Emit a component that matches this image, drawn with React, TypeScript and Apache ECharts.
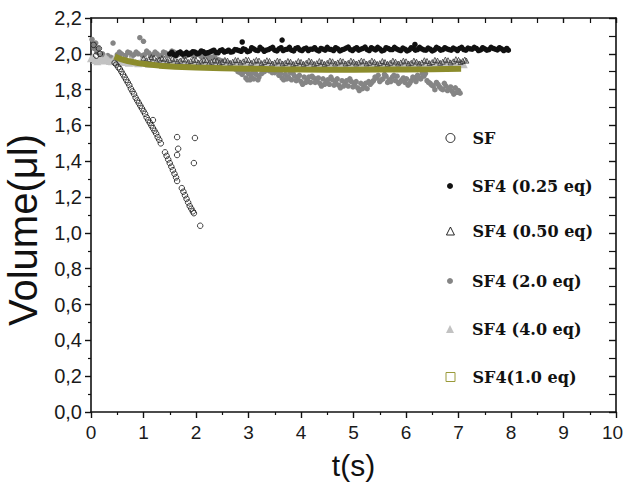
import React, { useEffect, useRef } from "react";
import * as echarts from "echarts";

// ---- data (t in s, volume in µl) ----
const xTicks = [0, 1, 2, 3, 4, 5, 6, 7, 8, 9, 10];
const yTicks = [0, 0.2, 0.4, 0.6, 0.8, 1.0, 1.2, 1.4, 1.6, 1.8, 2.0, 2.2];

const seriesNames = [
  "SF",
  "SF4 (0.25 eq)",
  "SF4 (0.50 eq)",
  "SF4 (2.0 eq)",
  "SF4 (4.0 eq)",
  "SF4(1.0 eq)",
];

const sfData: number[][] = [
  [0.05, 2.05], [0.15, 2.03], [0.17, 2.0], [0.1, 1.99],
  [0.45, 1.95], [0.48, 1.94], [0.52, 1.925], [0.55, 1.915], [0.58, 1.9], [0.61, 1.885],
  [0.64, 1.87], [0.67, 1.855], [0.7, 1.84], [0.73, 1.825], [0.76, 1.805], [0.79, 1.79],
  [0.82, 1.775], [0.85, 1.755], [0.88, 1.74], [0.91, 1.725], [0.94, 1.71], [0.97, 1.695],
  [1.0, 1.68], [1.03, 1.665], [1.06, 1.645], [1.09, 1.63], [1.12, 1.615], [1.15, 1.6],
  [1.18, 1.63], [1.18, 1.585], [1.21, 1.57], [1.24, 1.555], [1.27, 1.535], [1.3, 1.52],
  [1.33, 1.5], [1.41, 1.45], [1.44, 1.43], [1.47, 1.41], [1.5, 1.39], [1.53, 1.37],
  [1.56, 1.35], [1.59, 1.33], [1.62, 1.31], [1.64, 1.29],
  [1.64, 1.535], [1.66, 1.47], [1.64, 1.435],
  [1.73, 1.25], [1.76, 1.23], [1.79, 1.21], [1.82, 1.19], [1.85, 1.17], [1.88, 1.15],
  [1.91, 1.135], [1.94, 1.12], [1.96, 1.11],
  [1.98, 1.53], [1.96, 1.39], [2.08, 1.04],
];

const sf025Data: number[][] = [
  [1.5, 2.0], [1.58, 1.995], [1.66, 2.005], [1.74, 1.998], [1.82, 2.008], [1.9, 2.002],
  [1.98, 2.01], [2.06, 2.004], [2.14, 2.012], [2.22, 2.006], [2.3, 2.015], [2.38, 2.008],
  [2.46, 2.018], [2.54, 2.01], [2.62, 2.02], [2.7, 2.012], [2.78, 2.022], [2.86, 2.014],
  [2.88, 2.066], [2.94, 2.024], [3.02, 2.016], [3.1, 2.028], [3.18, 2.018], [3.26, 2.026],
  [3.34, 2.02], [3.42, 2.03], [3.5, 2.02], [3.58, 2.028], [3.64, 2.077], [3.66, 2.018],
  [3.74, 2.026], [3.82, 2.02], [3.9, 2.03], [3.98, 2.022], [4.06, 2.028], [4.14, 2.018],
  [4.22, 2.026], [4.3, 2.022], [4.38, 2.03], [4.46, 2.02], [4.54, 2.026], [4.62, 2.018],
  [4.7, 2.028], [4.78, 2.022], [4.86, 2.032], [4.94, 2.024], [5.02, 2.028], [5.1, 2.02],
  [5.18, 2.03], [5.26, 2.024], [5.34, 2.034], [5.42, 2.022], [5.5, 2.028], [5.58, 2.02],
  [5.66, 2.03], [5.74, 2.024], [5.82, 2.028], [5.9, 2.018], [5.98, 2.026], [6.06, 2.022],
  [6.14, 2.03], [6.17, 2.052], [6.22, 2.024], [6.3, 2.028], [6.38, 2.02], [6.46, 2.026],
  [6.54, 2.022], [6.62, 2.03], [6.7, 2.024], [6.78, 2.028], [6.86, 2.02], [6.94, 2.026],
  [7.02, 2.03], [7.1, 2.024], [7.18, 2.032], [7.26, 2.026], [7.34, 2.03], [7.42, 2.022],
  [7.5, 2.028], [7.58, 2.024], [7.66, 2.03], [7.74, 2.022], [7.82, 2.028], [7.9, 2.024],
  [7.95, 2.02],
  [1.54, 2.008], [1.62, 1.992], [1.7, 2.01], [1.78, 2.0], [1.86, 1.996], [1.94, 2.012],
  [2.02, 2.0], [2.1, 2.016], [2.18, 2.002], [2.26, 2.01], [2.34, 2.02], [2.42, 2.006],
  [2.5, 2.022], [2.58, 2.014], [2.66, 2.01], [2.74, 2.024], [2.82, 2.018], [2.9, 2.028],
  [2.98, 2.012], [3.06, 2.034], [3.14, 2.02], [3.22, 2.036], [3.3, 2.014], [3.38, 2.024],
  [3.46, 2.036], [3.54, 2.016], [3.62, 2.034], [3.7, 2.024], [3.78, 2.036], [3.86, 2.016],
  [3.94, 2.034], [4.02, 2.018], [4.1, 2.032], [4.18, 2.026], [4.26, 2.034], [4.34, 2.016],
  [4.42, 2.026], [4.5, 2.036], [4.58, 2.024], [4.66, 2.034], [4.74, 2.016], [4.82, 2.026],
  [4.9, 2.038], [4.98, 2.018], [5.06, 2.034], [5.14, 2.026], [5.22, 2.038], [5.3, 2.018],
  [5.38, 2.028], [5.46, 2.036], [5.54, 2.016], [5.62, 2.034], [5.7, 2.024], [5.78, 2.036],
  [5.86, 2.022], [5.94, 2.032], [6.02, 2.016], [6.1, 2.034], [6.18, 2.02], [6.26, 2.036],
  [6.34, 2.022], [6.42, 2.032], [6.5, 2.016], [6.58, 2.036], [6.66, 2.02], [6.74, 2.034],
  [6.82, 2.024], [6.9, 2.032], [6.98, 2.018], [7.06, 2.036], [7.14, 2.02], [7.22, 2.028],
  [7.3, 2.036], [7.38, 2.018], [7.46, 2.034], [7.54, 2.02], [7.62, 2.036], [7.7, 2.026],
  [7.78, 2.034], [7.86, 2.018], [7.92, 2.03],
];

const sf050Data: number[][] = [
  [1.0, 1.975], [1.1, 1.97], [1.2, 1.978], [1.3, 1.968], [1.4, 1.972], [1.5, 1.965],
  [1.6, 1.97], [1.7, 1.962], [1.8, 1.968], [1.9, 1.96], [2.0, 1.966], [2.1, 1.958],
  [2.2, 1.964], [2.3, 1.956], [2.4, 1.962], [2.5, 1.955], [2.6, 1.962], [2.7, 1.956],
  [2.8, 1.964], [2.9, 1.958], [3.0, 1.966], [3.1, 1.958], [3.2, 1.962], [3.3, 1.954],
  [3.4, 1.96], [3.5, 1.952], [3.6, 1.958], [3.7, 1.95], [3.8, 1.956], [3.9, 1.948],
  [4.0, 1.955], [4.1, 1.95], [4.2, 1.956], [4.3, 1.948], [4.4, 1.954], [4.5, 1.95],
  [4.6, 1.958], [4.7, 1.952], [4.8, 1.958], [4.9, 1.95], [5.0, 1.956], [5.1, 1.952],
  [5.2, 1.958], [5.3, 1.95], [5.4, 1.955], [5.5, 1.948], [5.6, 1.954], [5.7, 1.95],
  [5.8, 1.956], [5.9, 1.952], [6.0, 1.958], [6.1, 1.95], [6.2, 1.956], [6.3, 1.952],
  [6.4, 1.96], [6.5, 1.954], [6.6, 1.962], [6.7, 1.956], [6.8, 1.964], [6.9, 1.958],
  [7.0, 1.966], [7.08, 1.96], [7.15, 1.962],
  [1.05, 1.965], [1.15, 1.982], [1.25, 1.962], [1.35, 1.976], [1.45, 1.96], [1.55, 1.974],
  [1.65, 1.958], [1.75, 1.972], [1.85, 1.955], [1.95, 1.968], [2.05, 1.952], [2.15, 1.966],
  [2.25, 1.95], [2.35, 1.964], [2.45, 1.95], [2.55, 1.966], [2.65, 1.95], [2.75, 1.966],
  [2.85, 1.952], [2.95, 1.968], [3.05, 1.95], [3.15, 1.966], [3.25, 1.948], [3.35, 1.964],
  [3.45, 1.946], [3.55, 1.962], [3.65, 1.946], [3.75, 1.96], [3.85, 1.944], [3.95, 1.96],
  [4.05, 1.944], [4.15, 1.962], [4.25, 1.944], [4.35, 1.96], [4.45, 1.944], [4.55, 1.962],
  [4.65, 1.946], [4.75, 1.962], [4.85, 1.946], [4.95, 1.962], [5.05, 1.946], [5.15, 1.962],
  [5.25, 1.946], [5.35, 1.962], [5.45, 1.944], [5.55, 1.96], [5.65, 1.944], [5.75, 1.962],
  [5.85, 1.946], [5.95, 1.962], [6.05, 1.946], [6.15, 1.962], [6.25, 1.946], [6.35, 1.964],
  [6.45, 1.948], [6.55, 1.966], [6.65, 1.95], [6.75, 1.968], [6.85, 1.952], [6.95, 1.97],
  [7.04, 1.954], [7.12, 1.968],
];

const sf20Data: number[][] = [
  [0.02, 2.08], [0.04, 2.05], [0.06, 2.03], [0.09, 2.06], [0.11, 2.01], [0.14, 2.03],
  [0.18, 1.99], [0.22, 2.0], [0.27, 1.98], [0.32, 1.99], [0.38, 1.98], [0.42, 2.06],
  [0.5, 1.995], [0.58, 2.0], [0.66, 1.99], [0.74, 2.005], [0.82, 1.995], [0.9, 2.0],
  [0.93, 2.09], [1.0, 2.07], [1.02, 1.995], [1.1, 2.005], [1.18, 1.995], [1.26, 2.0],
  [1.34, 1.99], [1.42, 2.005], [1.5, 1.995], [1.58, 2.01], [1.66, 1.995], [1.74, 2.0],
  [1.82, 1.99], [1.9, 2.005], [1.98, 1.99], [2.06, 1.995], [2.14, 1.985], [2.22, 1.99],
  [2.3, 1.98], [2.4, 1.97], [2.5, 1.96], [2.6, 1.95], [2.7, 1.93], [2.8, 1.9],
  [2.88, 1.885], [2.95, 1.865], [3.0, 1.89], [3.05, 1.875], [3.1, 1.86], [3.15, 1.885],
  [3.2, 1.87], [3.3, 1.9], [3.4, 1.905], [3.5, 1.895], [3.58, 1.88], [3.64, 1.865],
  [3.7, 1.885], [3.76, 1.87], [3.82, 1.855], [3.88, 1.875], [3.94, 1.86], [4.0, 1.845],
  [4.06, 1.87], [4.12, 1.855], [4.18, 1.84], [4.24, 1.865], [4.3, 1.85], [4.36, 1.835],
  [4.42, 1.86], [4.48, 1.845], [4.54, 1.83], [4.6, 1.855], [4.66, 1.84], [4.72, 1.825],
  [4.78, 1.85], [4.84, 1.835], [4.9, 1.82], [4.96, 1.845], [5.02, 1.83], [5.08, 1.81],
  [5.14, 1.835], [5.2, 1.82], [5.26, 1.805], [5.32, 1.83], [5.38, 1.85], [5.44, 1.865],
  [5.5, 1.845], [5.56, 1.86], [5.62, 1.875], [5.68, 1.855], [5.74, 1.87], [5.8, 1.85],
  [5.86, 1.835], [5.92, 1.855], [5.98, 1.84], [6.04, 1.825], [6.1, 1.85], [6.16, 1.865],
  [6.22, 1.88], [6.28, 1.86], [6.34, 1.875], [6.4, 1.85], [6.46, 1.835], [6.52, 1.82],
  [6.58, 1.84], [6.64, 1.815], [6.7, 1.8], [6.76, 1.82], [6.82, 1.805], [6.88, 1.79],
  [6.94, 1.81], [7.0, 1.795], [7.03, 1.78],
  [3.03, 1.855], [3.12, 1.9], [3.67, 1.855], [3.85, 1.89], [4.03, 1.83], [4.21, 1.875],
  [4.39, 1.82], [4.57, 1.87], [4.75, 1.81], [4.93, 1.86], [5.11, 1.795], [5.29, 1.845],
  [5.47, 1.88], [5.65, 1.84], [5.83, 1.875], [6.01, 1.86], [6.19, 1.845], [6.37, 1.89],
  [6.55, 1.8], [6.73, 1.835], [6.91, 1.775],
  [0.54, 2.01], [0.62, 1.99], [0.7, 2.01], [0.78, 1.985], [0.86, 2.01], [0.98, 1.99],
  [1.06, 2.015], [1.14, 1.99], [1.22, 2.01], [1.3, 1.985], [1.38, 2.01], [1.46, 1.99],
  [1.54, 2.015], [1.62, 1.99], [1.7, 2.01], [1.78, 1.985], [1.86, 2.0], [1.94, 1.99],
  [2.02, 2.005], [2.1, 1.985], [2.18, 1.995], [2.26, 1.975], [2.35, 1.985], [2.45, 1.965],
  [2.55, 1.955], [2.65, 1.94], [2.75, 1.915], [2.84, 1.895],
  [2.92, 1.9], [2.98, 1.855], [3.08, 1.895], [3.18, 1.855], [3.25, 1.89], [3.35, 1.91],
  [3.45, 1.895], [3.55, 1.905], [3.61, 1.89], [3.73, 1.86], [3.79, 1.895], [3.91, 1.85],
  [3.97, 1.88], [4.09, 1.84], [4.15, 1.87], [4.27, 1.84], [4.33, 1.865], [4.45, 1.83],
  [4.51, 1.855], [4.63, 1.825], [4.69, 1.86], [4.81, 1.82], [4.87, 1.85], [4.99, 1.815],
  [5.05, 1.845], [5.17, 1.805], [5.23, 1.835], [5.35, 1.84], [5.41, 1.87], [5.53, 1.855],
  [5.59, 1.885], [5.71, 1.845], [5.77, 1.88], [5.89, 1.845], [5.95, 1.865], [6.07, 1.835],
  [6.13, 1.87], [6.25, 1.865], [6.31, 1.89], [6.43, 1.84], [6.49, 1.825], [6.61, 1.83],
  [6.67, 1.805], [6.79, 1.795], [6.85, 1.815], [6.97, 1.785],
];

const sf40Data: number[][] = [
  [0.0, 1.975], [0.08, 1.965], [0.16, 1.978], [0.24, 1.962], [0.32, 1.97], [0.4, 1.958],
  [0.48, 1.966], [0.56, 1.955], [0.64, 1.962], [0.72, 1.95], [0.8, 1.958], [0.9, 1.948],
  [1.0, 1.956], [1.1, 1.945], [1.2, 1.952], [1.3, 1.944], [1.4, 1.954], [1.5, 1.942],
  [1.6, 1.95], [1.7, 1.94], [1.8, 1.948], [1.9, 1.938], [2.0, 1.946], [2.1, 1.94],
  [2.2, 1.95], [2.3, 1.938], [2.4, 1.946], [2.5, 1.936], [2.6, 1.944], [2.7, 1.938],
  [2.8, 1.948], [2.9, 1.936], [3.0, 1.944], [3.1, 1.934], [3.2, 1.942], [3.3, 1.936],
  [3.4, 1.946], [3.5, 1.934], [3.6, 1.942], [3.7, 1.936], [3.8, 1.944], [3.9, 1.934],
  [4.0, 1.942], [4.1, 1.935], [4.2, 1.944], [4.3, 1.934], [4.4, 1.942], [4.5, 1.936],
  [4.6, 1.945], [4.7, 1.934], [4.8, 1.942], [4.9, 1.936], [5.0, 1.944], [5.1, 1.934],
  [5.2, 1.942], [5.3, 1.936], [5.4, 1.946], [5.5, 1.935], [5.6, 1.943], [5.7, 1.936],
  [5.8, 1.945], [5.9, 1.934], [6.0, 1.942], [6.1, 1.936], [6.2, 1.946], [6.3, 1.936],
  [6.4, 1.944], [6.5, 1.938], [6.6, 1.946], [6.7, 1.938], [6.8, 1.946], [6.9, 1.94],
  [7.0, 1.948], [7.1, 1.942],
  [0.04, 1.985], [0.12, 1.958], [0.2, 1.97], [0.28, 1.982], [0.36, 1.96], [0.44, 1.975],
  [0.52, 1.958], [0.6, 1.968], [0.68, 1.955], [0.76, 1.965], [0.85, 1.952], [0.95, 1.96],
  [1.05, 1.95], [1.15, 1.958], [1.25, 1.948], [1.35, 1.956], [1.45, 1.946], [1.55, 1.954],
  [1.65, 1.944], [1.75, 1.952], [1.85, 1.942], [1.95, 1.952], [2.05, 1.944], [2.15, 1.954],
  [2.25, 1.942], [2.35, 1.952], [2.45, 1.94], [2.55, 1.95], [2.65, 1.94], [2.75, 1.952],
  [2.85, 1.94], [2.95, 1.95], [3.05, 1.938], [3.15, 1.95], [3.25, 1.938], [3.35, 1.95],
  [3.45, 1.938], [3.55, 1.948], [3.65, 1.938], [3.75, 1.95], [3.85, 1.938], [3.95, 1.948],
  [4.05, 1.938], [4.15, 1.95], [4.25, 1.938], [4.35, 1.948], [4.45, 1.938], [4.55, 1.95],
  [4.65, 1.938], [4.75, 1.948], [4.85, 1.938], [4.95, 1.95], [5.05, 1.938], [5.15, 1.948],
  [5.25, 1.938], [5.35, 1.95], [5.45, 1.938], [5.55, 1.95], [5.65, 1.94], [5.75, 1.95],
  [5.85, 1.938], [5.95, 1.948], [6.05, 1.94], [6.15, 1.95], [6.25, 1.94], [6.35, 1.95],
  [6.45, 1.94], [6.55, 1.952], [6.65, 1.942], [6.75, 1.952], [6.85, 1.942], [6.95, 1.954],
  [7.05, 1.944],
];

const sf10Data: number[][] = [
  [0.45, 1.985], [0.55, 1.972], [0.7, 1.96], [0.9, 1.948], [1.1, 1.94], [1.3, 1.934],
  [1.6, 1.928], [2.0, 1.924], [2.5, 1.92], [3.0, 1.917], [3.5, 1.914], [4.0, 1.912],
  [4.5, 1.911], [5.0, 1.911], [5.5, 1.912], [6.0, 1.913], [6.5, 1.914], [7.05, 1.916],
];

const fmt = (v: number) => v.toFixed(1).replace(".", ",");

const BLACK = "#111";
const GRAY = "#858585";
const LIGHT = "#c2c2c2";
const OLIVE = "#8c8c2c";

export default function App() {
  const ref = useRef<HTMLDivElement>(null);

  useEffect(() => {
    if (!ref.current) return;
    const chart = echarts.init(ref.current, null, { renderer: "svg" });

    const axisLine = { show: true, onZero: false, lineStyle: { color: BLACK, width: 1.6 } };
    const labelFont = { fontFamily: "Liberation Sans", fontSize: 19, color: "#1a1a1a" };

    const legendSpec = [
      { name: seriesNames[0], cy: 138, w: 9, icon: "circle", style: { color: "rgba(0,0,0,0)", borderColor: BLACK, borderWidth: 0.9 } },
      { name: seriesNames[1], cy: 186, w: 6, icon: "circle", style: { color: BLACK } },
      { name: seriesNames[2], cy: 231, w: 8, icon: "triangle", style: { color: "rgba(0,0,0,0)", borderColor: BLACK, borderWidth: 0.9 } },
      { name: seriesNames[3], cy: 281, w: 6, icon: "circle", style: { color: GRAY } },
      { name: seriesNames[4], cy: 329, w: 8, icon: "triangle", style: { color: LIGHT } },
      { name: seriesNames[5], cy: 377, w: 9, icon: "rect", style: { color: "rgba(0,0,0,0)", borderColor: "#9a9a3a", borderWidth: 1 } },
    ];

    const legends = legendSpec.map((l) => ({
      data: [{ name: l.name, icon: l.icon, itemStyle: l.style }],
      left: 450 - l.w / 2,
      top: l.cy - 10,
      itemWidth: l.w,
      itemHeight: l.w,
      selectedMode: false,
      padding: 0,
      textStyle: {
        fontFamily: "DejaVu Serif",
        fontWeight: "bold",
        fontSize: 16,
        color: "#111",
        padding: [0, 0, 0, 17 - l.w / 2],
        lineHeight: 20,
      },
    }));

    chart.setOption({
      animation: false,
      backgroundColor: "#fff",
      grid: { left: 91, top: 18, width: 525, height: 394, containLabel: false, outerBoundsMode: "none" },
      legend: legends,
      xAxis: [
        {
          type: "value",
          min: 0,
          max: 10,
          interval: 1,
          position: "bottom",
          axisLine,
          axisTick: { show: true, inside: false, length: 6, lineStyle: { color: BLACK, width: 1.4 } },
          minorTick: { show: true, splitNumber: 2, length: 3, lineStyle: { color: BLACK, width: 1.2 } },
          splitLine: { show: false },
          axisLabel: {
            ...labelFont,
            margin: 11,
            formatter: (v: number) => (v === 10 ? "{e|10}" : String(v)),
            rich: { e: { ...labelFont, padding: [0, 7, 0, 0] } },
          },
          name: "t(s)",
          nameLocation: "middle",
          nameGap: 38,
          nameTextStyle: { fontFamily: "Liberation Sans", fontSize: 30, color: "#111" },
        },
        {
          type: "value",
          min: 0,
          max: 10,
          interval: 1,
          position: "top",
          axisLine,
          axisTick: { show: true, inside: true, length: 5, lineStyle: { color: BLACK, width: 1.4 } },
          minorTick: { show: true, splitNumber: 2, length: 5, lineStyle: { color: BLACK, width: 1.2 } },
          splitLine: { show: false },
          axisLabel: { show: false },
        },
      ],
      yAxis: [
        {
          type: "value",
          min: 0,
          max: 2.2,
          interval: 0.2,
          position: "left",
          axisLine,
          axisTick: { show: true, inside: false, length: 6, lineStyle: { color: BLACK, width: 1.4 } },
          minorTick: { show: true, splitNumber: 2, length: 3, lineStyle: { color: BLACK, width: 1.2 } },
          splitLine: { show: false },
          axisLabel: { ...labelFont, fontSize: 20, margin: 9, formatter: (v: number) => fmt(v) },
          name: "Volume(μl)",
          nameLocation: "middle",
          nameGap: 45,
          nameTextStyle: { fontFamily: "Liberation Sans", fontSize: 40, color: "#111", padding: [0, 30, 0, 0] },
        },
        {
          type: "value",
          min: 0,
          max: 2.2,
          interval: 0.2,
          position: "right",
          axisLine,
          axisTick: { show: true, inside: true, length: 7, lineStyle: { color: BLACK, width: 1.4 } },
          minorTick: { show: true, splitNumber: 2, length: 7, lineStyle: { color: BLACK, width: 1.2 } },
          splitLine: { show: false },
          axisLabel: { show: false },
        },
      ],
      series: [
        {
          name: seriesNames[3],
          type: "scatter",
          data: sf20Data,
          symbol: "circle",
          symbolSize: 5.5,
          itemStyle: { color: GRAY, opacity: 1 },
        },
        {
          name: seriesNames[4],
          type: "scatter",
          data: sf40Data,
          symbol: "triangle",
          symbolSize: 8,
          itemStyle: { color: LIGHT, opacity: 1 },
        },
        {
          name: seriesNames[5],
          type: "line",
          data: sf10Data,
          showSymbol: false,
          symbol: "rect",
          smooth: false,
          lineStyle: { color: OLIVE, width: 6 },
          itemStyle: { color: OLIVE },
        },
        {
          name: seriesNames[2],
          type: "scatter",
          data: sf050Data,
          symbol: "triangle",
          symbolSize: 5,
          itemStyle: { color: "rgba(0,0,0,0)", borderColor: "#333", borderWidth: 0.8, opacity: 1 },
        },
        {
          name: seriesNames[1],
          type: "scatter",
          data: sf025Data,
          symbol: "circle",
          symbolSize: 5.5,
          itemStyle: { color: BLACK, opacity: 1 },
        },
        {
          name: seriesNames[0],
          type: "scatter",
          data: sfData,
          symbol: "circle",
          symbolSize: 5.5,
          itemStyle: { color: "rgba(0,0,0,0)", borderColor: BLACK, borderWidth: 0.8, opacity: 1 },
        },
      ],
    });

    return () => chart.dispose();
  }, []);

  return (
    <div
      ref={ref}
      style={{ position: "fixed", left: 0, top: 0, width: 625, height: 485, background: "#fff" }}
    />
  );
}
